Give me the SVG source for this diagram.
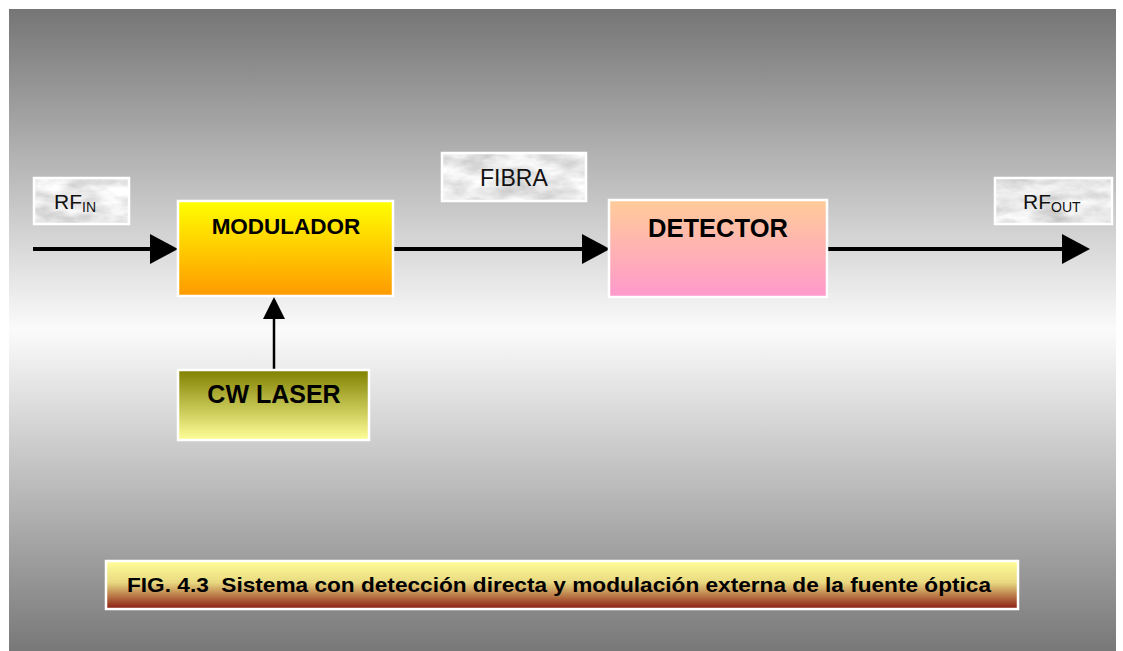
<svg xmlns="http://www.w3.org/2000/svg" width="1123" height="651" viewBox="0 0 1123 651">
<style>
.lbl{font-family:"Liberation Sans",Arial,sans-serif;font-size:21px;fill:#111}
.sub{font-size:14px}
.bold{font-family:"Liberation Sans",Arial,sans-serif;font-weight:bold;fill:#000}
.frame{fill:none;stroke:#fff;stroke-width:2.5}
.conn{stroke:#000;fill:none}
</style>
<defs>
<linearGradient id="bg" x1="0" y1="0" x2="0" y2="1">
<stop offset="0" stop-color="#757575"/>
<stop offset="0.5" stop-color="#fbfbfb"/>
<stop offset="1" stop-color="#787878"/>
</linearGradient>
<linearGradient id="gMod" x1="0" y1="0" x2="0" y2="1">
<stop offset="0" stop-color="#ffff00"/>
<stop offset="1" stop-color="#ff9900"/>
</linearGradient>
<linearGradient id="gDet" x1="0" y1="0" x2="0" y2="1">
<stop offset="0" stop-color="#ffcc99"/>
<stop offset="1" stop-color="#ff99cc"/>
</linearGradient>
<linearGradient id="gLas" x1="0" y1="0" x2="0" y2="1">
<stop offset="0" stop-color="#808000"/>
<stop offset="1" stop-color="#ffff99"/>
</linearGradient>
<linearGradient id="gCap" x1="0" y1="0" x2="0" y2="1">
<stop offset="0" stop-color="#ffff99"/>
<stop offset="0.45" stop-color="#e8d880"/>
<stop offset="1" stop-color="#8b1a10"/>
</linearGradient>
<filter id="marble" x="0" y="0" width="100%" height="100%">
<feTurbulence type="fractalNoise" baseFrequency="0.03 0.07" numOctaves="4" seed="7"/>
<feColorMatrix type="matrix" values="0.7 0 0 0 0.45  0.7 0 0 0 0.45  0.7 0 0 0 0.45  0 0 0 0 1"/>
<feComposite operator="in" in2="SourceGraphic"/>
</filter>
<marker id="ah" markerUnits="userSpaceOnUse" markerWidth="28" markerHeight="30" refX="0" refY="15" orient="auto">
<path d="M0,0 L28,15 L0,30 Z" fill="#000"/>
</marker>
<marker id="ahs" markerUnits="userSpaceOnUse" markerWidth="22" markerHeight="22" refX="0" refY="11" orient="auto">
<path d="M0,0 L22,11 L0,22 Z" fill="#000"/>
</marker>
</defs>
<rect x="0" y="0" width="1123" height="651" fill="#fff"/>
<rect x="9" y="9" width="1107" height="642" fill="url(#bg)"/>

<g id="connectors">
<line class="conn" x1="33" y1="249" x2="150" y2="249" stroke-width="4" marker-end="url(#ah)"/>
<line class="conn" x1="394" y1="249" x2="582" y2="249" stroke-width="4" marker-end="url(#ah)"/>
<line class="conn" x1="828" y1="249" x2="1062" y2="249" stroke-width="4" marker-end="url(#ah)"/>
<line class="conn" x1="274" y1="369" x2="274" y2="319" stroke-width="2.5" marker-end="url(#ahs)"/>
</g>

<g id="rf-in">
<rect x="34" y="178" width="95" height="46" fill="#d0d0d0" filter="url(#marble)"/>
<rect x="34" y="178" width="95" height="46" class="frame"/>
<text class="lbl" x="54" y="209">RF<tspan class="sub" dy="3">IN</tspan></text>
</g>

<g id="modulador">
<rect x="178" y="201" width="215" height="95" fill="url(#gMod)"/>
<rect x="178" y="201" width="215" height="95" class="frame"/>
<text class="bold" x="286" y="234" font-size="22.5" text-anchor="middle">MODULADOR</text>
</g>

<g id="fibra">
<rect x="442" y="153" width="144" height="48" fill="#d0d0d0" filter="url(#marble)"/>
<rect x="442" y="153" width="144" height="48" class="frame"/>
<text class="lbl" x="480" y="186" style="font-size:23px">FIBRA</text>
</g>

<g id="detector">
<rect x="609" y="200" width="218" height="97" fill="url(#gDet)"/>
<rect x="609" y="200" width="218" height="97" class="frame" stroke-width="3"/>
<text class="bold" x="718" y="237" font-size="25.5" text-anchor="middle">DETECTOR</text>
</g>

<g id="rf-out">
<rect x="995" y="178" width="117" height="46" fill="#d0d0d0" filter="url(#marble)"/>
<rect x="995" y="178" width="117" height="46" class="frame"/>
<text class="lbl" x="1023" y="209">RF<tspan class="sub" dy="3">OUT</tspan></text>
</g>

<g id="cw-laser">
<rect x="178" y="370" width="191" height="70" fill="url(#gLas)"/>
<rect x="178" y="370" width="191" height="70" class="frame"/>
<text class="bold" x="274" y="403" font-size="25" text-anchor="middle">CW LASER</text>
</g>

<g id="caption">
<rect x="106" y="561" width="912" height="48" fill="url(#gCap)"/>
<rect x="106" y="561" width="912" height="48" class="frame" stroke-width="2"/>
<text class="bold" x="127" y="592" font-size="20.5" textLength="864" lengthAdjust="spacingAndGlyphs" style="white-space:pre">FIG. 4.3  Sistema con detección directa y modulación externa de la fuente óptica</text>
</g>
</svg>
